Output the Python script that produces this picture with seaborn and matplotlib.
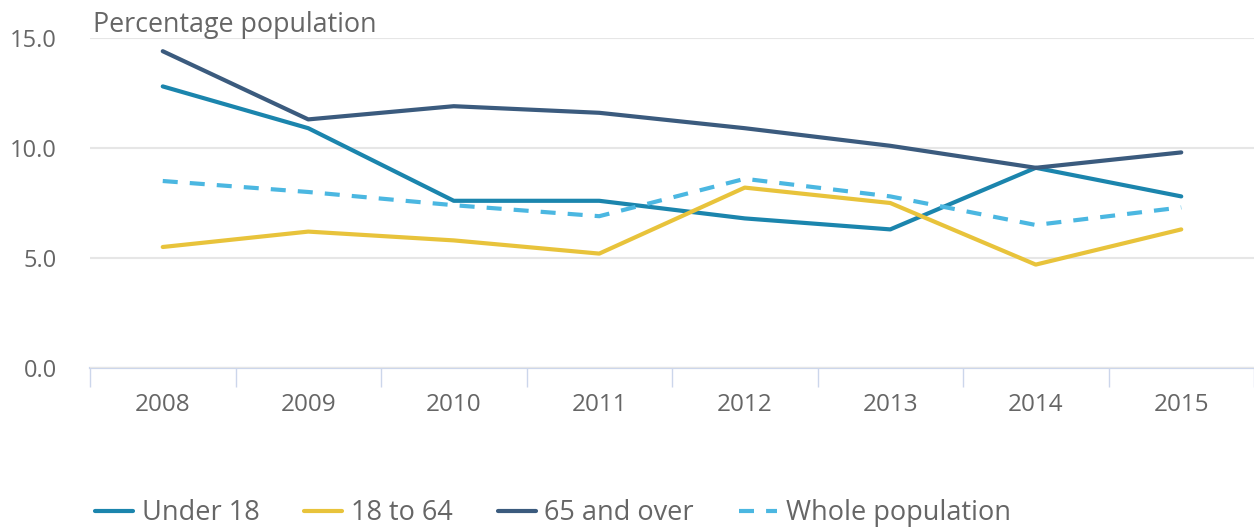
import pandas as pd
import matplotlib
matplotlib.use("Agg")
import matplotlib.pyplot as plt
from matplotlib.ticker import FixedLocator
import seaborn as sns

# datos
years = [2008, 2009, 2010, 2011, 2012, 2013, 2014, 2015]
under_18 = [12.8, 10.9, 7.6, 7.6, 6.8, 6.3, 9.1, 7.8]
age_18_64 = [5.5, 6.2, 5.8, 5.2, 8.2, 7.5, 4.7, 6.3]
over_65 = [14.4, 11.3, 11.9, 11.6, 10.9, 10.1, 9.1, 9.8]
whole_pop = [8.5, 8.0, 7.4, 6.9, 8.6, 7.8, 6.5, 7.3]

series_names = ["Under 18", "18 to 64", "65 and over", "Whole population"]
series_values = [under_18, age_18_64, over_65, whole_pop]
y_ticks = [0, 5, 10, 15]

colores = ["#1b85ad", "#e8c33b", "#3b5b7e", "#4bb7e1"]
text_color = "#666666"

df = pd.DataFrame({
    "year": years * len(series_names),
    "value": sum(series_values, []),
    "group": [n for n in series_names for _ in years],
})

sns.set_theme(style="white")
plt.rcParams["font.family"] = ["Open Sans", "DejaVu Sans"]

fig = plt.figure(figsize=(12.54, 5.28), dpi=100)
ax = fig.add_axes([90 / 1254, 1 - 368 / 528, 1 - 90 / 1254, (368 - 38) / 528])

sns.lineplot(data=df, x="year", y="value", hue="group", style="group",
             hue_order=series_names, style_order=series_names,
             palette=colores,
             dashes={"Under 18": "", "18 to 64": "", "65 and over": "",
                     "Whole population": (3.6, 2.9)},
             linewidth=3, ax=ax, legend=False, clip_on=False)

ax.set_xlim(years[0] - 0.5, years[-1] + 0.5)
ax.set_ylim(y_ticks[0], y_ticks[-1])
ax.set_xticks(years)
ax.set_xticklabels([str(y) for y in years])
ax.xaxis.set_minor_locator(FixedLocator([y - 0.5 for y in years] + [years[-1] + 0.5]))
ax.set_yticks(y_ticks)
ax.set_yticklabels([f"{v:.1f}" for v in y_ticks])
ax.set_xlabel("")
ax.set_ylabel("")

# rejilla y ejes
ax.grid(axis="y", color="#e6e6e6", linewidth=1.5)
ax.grid(axis="x", visible=False)
for s in ["top", "right", "left"]:
    ax.spines[s].set_visible(False)
ax.spines["bottom"].set_color("#ccd6eb")
ax.spines["bottom"].set_linewidth(1.6)
ax.spines["bottom"].set_zorder(0.5)

ax.tick_params(axis="x", which="major", length=0, pad=18, labelsize=17.5, labelcolor=text_color)
ax.tick_params(axis="x", which="minor", length=14, width=1, color="#ccd6eb", bottom=True)
ax.tick_params(axis="y", length=0, pad=24, labelsize=17, labelcolor=text_color)

fig.text(93 / 1254, 1 - 32 / 528, "Percentage population", fontsize=19.4,
         color=text_color, ha="left", va="baseline")

handles = [plt.Line2D([], [], color=c, linewidth=3,
                      linestyle=(0, (3.6, 2.9)) if n == "Whole population" else "-")
           for n, c in zip(series_names, colores)]
leg = fig.legend(handles, series_names, loc="center left",
                 bbox_to_anchor=(95 / 1254, 1 - 513 / 528), ncol=4, frameon=False,
                 fontsize=19.5, handlelength=1.4, handletextpad=0.33,
                 columnspacing=1.65, borderpad=0, borderaxespad=0)
for t in leg.get_texts():
    t.set_color(text_color)

fig.savefig("out.png", dpi=100)
